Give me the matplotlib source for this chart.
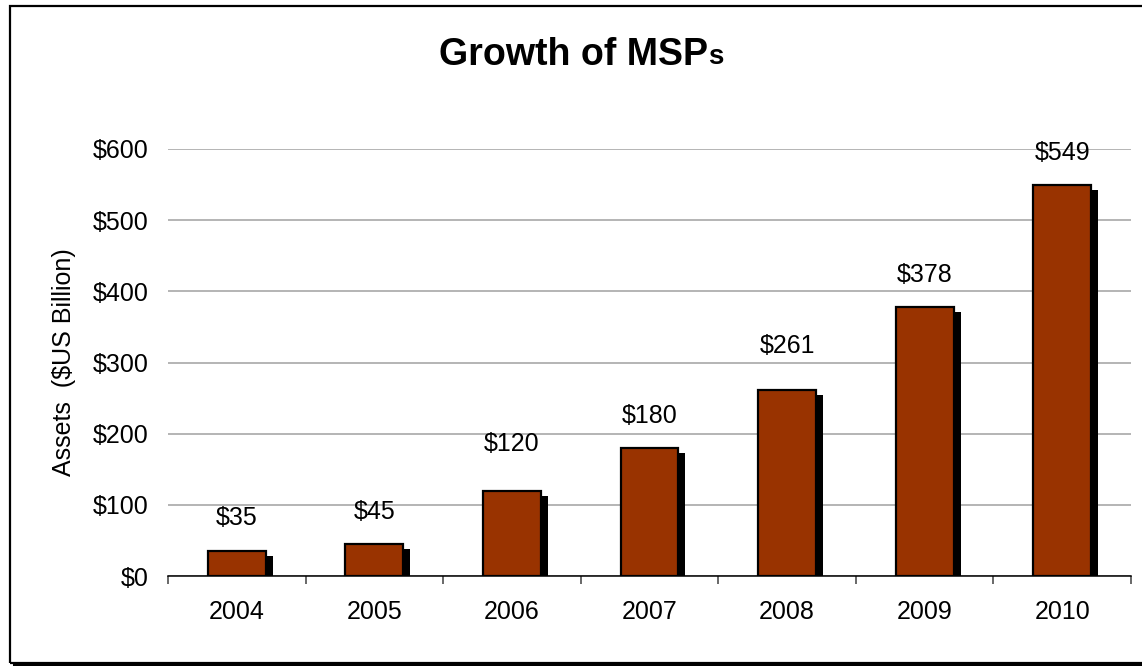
"""Bar chart of MSP assets by year"""

import matplotlib
matplotlib.use("Agg")
import matplotlib.pyplot as plt
from matplotlib.patches import Rectangle
from matplotlib.lines import Line2D
from matplotlib import transforms

years = ["2004", "2005", "2006", "2007", "2008", "2009", "2010"]
assets = [35, 45, 120, 180, 261, 378, 549]
y_ticks = [0, 100, 200, 300, 400, 500, 600]
y_tick_labels = ["$0", "$100", "$200", "$300", "$400", "$500", "$600"]

# vertical gap (pixels) between bar top and value label
label_gap = [33, 32, 47, 32, 44, 32, 32]

BAR_COLOR = "#993300"
FONT = "Liberation Sans"
FS = 18

plt.rcParams["font.family"] = [FONT, "DejaVu Sans"]

W, H = 1142, 666
fig = plt.figure(figsize=(W / 100, H / 100), dpi=100)
fig.patch.set_facecolor("white")

# outer frame with a drop shadow on the bottom edge
frame = Rectangle((10 / W, 1 - 663 / H), 1.2, (663 - 6) / H,
                  transform=fig.transFigure, fill=False,
                  edgecolor="black", linewidth=1.6)
fig.patches.append(frame)
fig.lines.append(Line2D([14 / W, 1], [1 - 665 / H] * 2,
                        transform=fig.transFigure, color="black", lw=2.2))

ax = fig.add_axes([168 / W, 1 - 576 / H, (1131 - 168) / W, (576 - 149) / H])

x = list(range(len(years)))
width = 0.42
px = (1131 - 168) / len(years)          # pixels per category
dx = 7 / px                              # shadow shift in data units
dy = 5 * 600 / (576 - 149)               # shadow drop in data units

# shadow bars, then the bars themselves
ax.bar([i + dx for i in x], [v - dy for v in assets], width=width,
       color="black", zorder=2)
ax.bar(x, assets, width=width, color=BAR_COLOR, edgecolor="black",
       linewidth=1.6, zorder=3)

for i, v in enumerate(assets):
    off = transforms.offset_copy(ax.transData, fig=fig,
                                 x=0, y=label_gap[i] * 72 / 100, units="points")
    ax.text(i, v, f"${v}", transform=off, ha="center", va="center",
            fontsize=FS, color="black", zorder=4, clip_on=False)

ax.set_xlim(-0.5, len(years) - 0.5)
ax.set_ylim(0, 600)

ax.set_yticks(y_ticks)
ax.set_yticklabels(y_tick_labels, fontsize=FS)
ax.tick_params(axis="y", length=0, pad=14)
ax.yaxis.grid(True, color="#a0a0a0", linewidth=1.1)
ax.set_axisbelow(True)

# category ticks sit between the bars
ax.set_xticks(x)
ax.set_xticklabels(years, fontsize=FS)
ax.tick_params(axis="x", length=0, pad=17)
ax.set_xticks([i - 0.5 for i in range(len(years) + 1)], minor=True)
ax.tick_params(axis="x", which="minor", length=6, width=1.1,
               color="#404040", direction="out")

for side in ["left", "right", "top"]:
    ax.spines[side].set_visible(False)
ax.spines["bottom"].set_linewidth(1.1)

ax.set_ylabel("Assets  ($US Billion)", fontsize=FS, labelpad=12)

# title with a smaller trailing "s", centred as a whole
t1 = fig.text(0, 1 - 55 / H, "Growth of MSP", fontsize=27, fontweight="bold",
              ha="left", va="center")
t2 = fig.text(0, 1 - 57 / H, "s", fontsize=20, fontweight="bold",
              ha="left", va="center")
fig.canvas.draw()
r = fig.canvas.get_renderer()
w1 = t1.get_window_extent(r).width
w2 = t2.get_window_extent(r).width
x0 = 581 - (w1 + w2) / 2
t1.set_x(x0 / W)
t2.set_x((x0 + w1) / W)

fig.savefig("out.png", dpi=100)
